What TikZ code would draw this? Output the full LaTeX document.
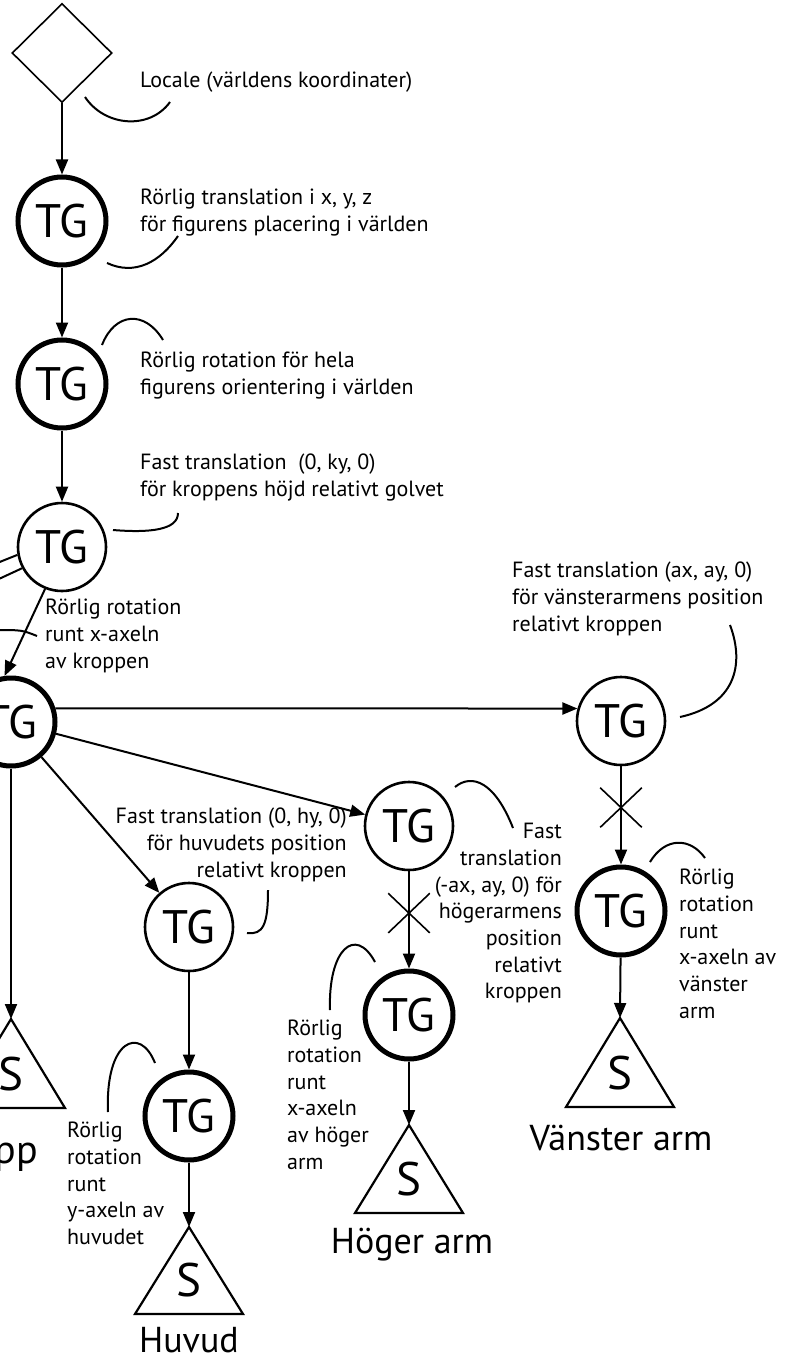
\documentclass[tikz,border=0pt]{standalone}
\usepackage{fontspec}
\setmainfont{PT Sans}
\usetikzlibrary{arrows.meta,shapes.geometric,shapes.misc}
\tikzset{
  tg/.style={circle, draw, line width=2.6pt, minimum size=88pt, inner sep=0pt,
             font=\fontsize{47}{47}\selectfont},
  tgmov/.style={tg, line width=5pt},
  world/.style={diamond, draw, line width=1.6pt, minimum width=100pt,
                minimum height=99pt, inner sep=0pt},
  desc/.style={font=\fontsize{22}{26.7}\selectfont, align=left, inner sep=0pt,
               anchor=north west},
  descr/.style={desc, align=right, anchor=north east},
  sym/.style={font=\fontsize{47}{47}\selectfont, inner sep=0pt},
  part/.style={font=\fontsize{36}{36}\selectfont, inner sep=0pt, anchor=base},
  shp/.style={line width=2.2pt},
  arrow/.style={-{Triangle[length=15pt,width=12pt]}, line width=2pt},
  lead/.style={line width=2pt},
  xmark/.style={cross out, draw, line width=1.6pt, minimum width=40pt,
                minimum height=38pt, inner sep=0pt}
}

\begin{document}
\begin{tikzpicture}[x=1pt,y=-1pt]
  \useasboundingbox (0,0) rectangle (800,1359);
  \clip (0,0) rectangle (800,1359);

  % huvudkedjan
  \node[world] (locale) at (62,53) {};
  \node[tgmov] (pos) at (62,221) {TG};
  \node[tgmov] (rot) at (62,384) {TG};
  \node[tg] (hojd) at (62,547) {TG};
  \node[tgmov] (kropp) at (11,722) {TG};
  \draw[arrow] (locale) -- (pos);
  \draw[arrow] (pos) -- (rot);
  \draw[arrow] (rot) -- (hojd);
  \draw[arrow] (hojd.248) -- (kropp.98);

  % benen (utanfor bilden)
  \coordinate (legA) at (-40,578);
  \coordinate (legB) at (-40,597);
  \draw[lead] (hojd.190) -- (legA);
  \draw[lead] (hojd.208) -- (legB);

  % kropp
  \coordinate (kropptop) at (11,1019);
  \draw[arrow] (kropp) -- (kropptop);
  \draw[shp] (kropptop) -- ++(-54,89) -- ++(108,0) -- cycle;
  \node[sym] (kroppS) at (11,1074) {S};
  \node[part, font=\fontsize{40}{40}\selectfont, anchor=base east] (kropplbl) at (38,1163) {Kropp};

  % huvud
  \node[tg] (huvpos) at (189,927) {TG};
  \node[tgmov] (huvrot) at (189,1116) {TG};
  \coordinate (huvtop) at (189,1227);
  \draw[arrow] (kropp) -- (huvpos);
  \draw[arrow] (huvpos) -- (huvrot);
  \draw[arrow] (huvrot) -- (huvtop);
  \draw[shp] (huvtop) -- ++(-54,87) -- ++(108,0) -- cycle;
  \node[sym] (huvS) at (189,1280) {S};
  \node[part] (huvlbl) at (189,1352) {Huvud};

  % hoger arm
  \node[tg] (hogpos) at (409,826) {TG};
  \node[tgmov] (hogrot) at (409,1015) {TG};
  \coordinate (hogtop) at (409,1125);
  \draw[arrow] (kropp) -- (hogpos);
  \draw[arrow] (hogpos) -- node[xmark, pos=0.43] (hogx) {} (hogrot);
  \draw[arrow] (hogrot) -- (hogtop);
  \draw[shp] (hogtop) -- ++(-54,88) -- ++(108,0) -- cycle;
  \node[sym] (hogS) at (409,1179) {S};
  \node[part] (hoglbl) at (412,1253) {Höger arm};

  % vanster arm
  \node[tg] (vanpos) at (621,721) {TG};
  \node[tgmov] (vanrot) at (621,911) {TG};
  \coordinate (vantop) at (620,1018);
  \draw[arrow] (kropp.17) -- (vanpos.164);
  \draw[arrow] (vanpos) -- node[xmark, pos=0.42] (vanx) {} (vanrot);
  \draw[arrow] (vanrot) -- (vantop);
  \draw[shp] (vantop) -- ++(-54,89) -- ++(108,0) -- cycle;
  \node[sym] (vanS) at (620,1073) {S};
  \node[part] (vanlbl) at (621,1150) {Vänster arm};

  % texter
  \node[desc] (localetxt) at (140,72) {Locale (världens koordinater)};
  \node[desc] (postxt) at (140,189) {Rörlig translation i x, y, z\\för figurens placering i världen};
  \node[desc] (rottxt) at (140,352) {Rörlig rotation för hela\\figurens orientering i världen};
  \node[desc] (hojdtxt) at (140,454) {Fast translation\ \ (0, ky, 0)\\för kroppens höjd relativt golvet};
  \node[desc] (kropptxt) at (45,599) {Rörlig rotation\\runt x-axeln\\av kroppen};
  \node[descr] (huvpostxt) at (347,808) {Fast translation (0, hy, 0)\\för huvudets position\\relativt kroppen};
  \node[descr] (hogpostxt) at (562,823) {Fast\\translation\\(-ax, ay, 0) för\\högerarmens\\position\\relativt\\kroppen};
  \node[desc] (vanpostxt) at (512,562) {Fast translation (ax, ay, 0)\\för vänsterarmens position\\relativt kroppen};
  \node[desc] (vanrottxt) at (679,869) {Rörlig\\rotation\\runt\\x-axeln av\\vänster\\arm};
  \node[desc] (hogrottxt) at (287,1020) {Rörlig\\rotation\\runt\\x-axeln\\av höger\\arm};
  \node[desc] (huvrottxt) at (67,1122) {Rörlig\\rotation\\runt\\y-axeln av\\huvudet};

  % ledkurvor
  \draw[lead] (85,97) .. controls (105,127) and (150,130) .. (170,102);
  \draw[lead] (107,263) .. controls (135,276) and (160,262) .. (178,236);
  \draw[lead] (102,345) .. controls (115,312) and (145,310) .. (163,340);
  \draw[lead] (113,530) .. controls (150,533) and (178,530) .. (178,513);
  \draw[lead] (37,636) .. controls (22,630) .. (-5,630);
  \draw[lead] (247,933) .. controls (263,935) and (268,925) .. (268,890);
  \draw[lead] (455,787) .. controls (472,773) and (495,782) .. (513,828);
  \draw[lead] (680,717) .. controls (735,705) and (745,665) .. (730,625);
  \draw[lead] (650,862) .. controls (665,837) and (690,837) .. (705,858);
  \draw[lead] (330,1010) .. controls (328,950) and (355,925) .. (375,962);
  \draw[lead] (108,1112) .. controls (105,1040) and (140,1025) .. (155,1063);
\end{tikzpicture}
\end{document}
